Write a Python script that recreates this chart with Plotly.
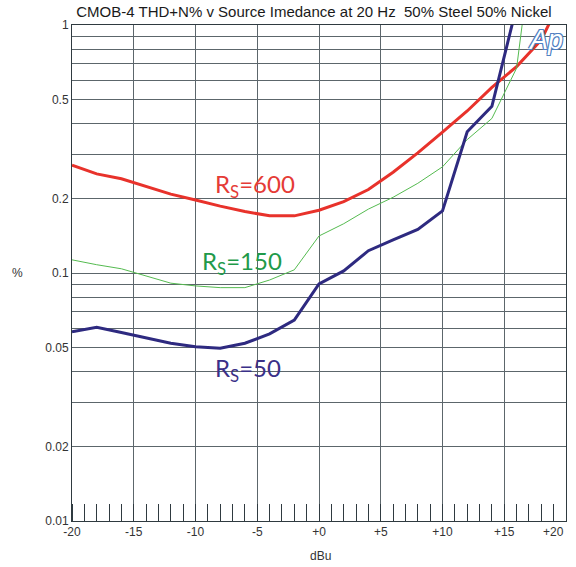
import plotly.graph_objects as go

# ---- data ----
dbu = [-20, -18, -16, -14, -12, -10, -8, -6, -4, -2, 0, 2, 4, 6, 8, 10, 12, 14, 16, 18, 20]
rs600 = [0.272, 0.251, 0.240, 0.223, 0.208, 0.197, 0.186, 0.177, 0.170, 0.170, 0.179,
         0.194, 0.217, 0.255, 0.305, 0.370, 0.450, 0.560, 0.680, 0.870, 1.40]
rs150 = [0.113, 0.108, 0.104, 0.097, 0.091, 0.0887, 0.0873, 0.0873, 0.0937, 0.103, 0.141,
         0.158, 0.181, 0.202, 0.230, 0.268, 0.345, 0.420, 0.670, 4.0]
rs50 = [0.058, 0.0604, 0.0576, 0.0548, 0.0521, 0.0504, 0.0497, 0.0521, 0.0568, 0.0646, 0.0903,
        0.102, 0.123, 0.136, 0.150, 0.178, 0.371, 0.470, 1.22, 3.0]

x_tickvals = [-20, -15, -10, -5, 0, 5, 10, 15]
x_ticktext = ["-20", "-15", "-10", "-5", "+0", "+5", "+10", "+15"]
y_gridvals = [0.01, 0.02, 0.03, 0.04, 0.05, 0.06, 0.07, 0.08, 0.09,
              0.1, 0.2, 0.3, 0.4, 0.5, 0.6, 0.7, 0.8, 0.9, 1]
y_labelled = {0.01: "0.01", 0.02: "0.02", 0.05: "0.05", 0.1: "0.1", 0.2: "0.2", 0.5: "0.5", 1: "1"}
y_ticktext = [y_labelled.get(v, "") for v in y_gridvals]

title_text = "CMOB-4 THD+N% v Source Imedance at 20 Hz\u00a0\u00a050% Steel 50% Nickel"

RED = "#e8322b"
NAVY = "#2e2a80"
GREEN = "#55bb50"
GRID = "#5c666b"
AXIS = "#2f3a40"

fig = go.Figure()
fig.add_trace(go.Scatter(x=dbu[:len(rs600)], y=rs600, mode="lines",
                         line=dict(color=RED, width=3), showlegend=False))
fig.add_trace(go.Scatter(x=dbu[:len(rs150)], y=rs150, mode="lines",
                         line=dict(color=GREEN, width=1), showlegend=False))
fig.add_trace(go.Scatter(x=dbu[:len(rs50)], y=rs50, mode="lines",
                         line=dict(color=NAVY, width=3), showlegend=False))

font_main = "Liberation Sans, Arial, sans-serif"
lab_font = "Lato, Open Sans, sans-serif"

fig.update_layout(
    width=576, height=567,
    margin=dict(l=72, r=10, t=25, b=46, autoexpand=False),
    paper_bgcolor="white", plot_bgcolor="white",
    font=dict(family=font_main, size=12, color="#333333"),
    title=dict(text=title_text, x=0.545, xanchor="center", y=0.979, yanchor="middle",
               font=dict(family=font_main, size=15, color="#1a1a1a")),
    xaxis=dict(range=[-20, 20], tickvals=x_tickvals, ticktext=x_ticktext,
               showgrid=True, gridcolor=GRID, gridwidth=1, automargin=False,
               showline=True, linecolor=AXIS, linewidth=1, mirror=True,
               ticks="", zeroline=False,
               tickfont=dict(family=font_main, size=12, color="#333333"),
               minor=dict(tick0=-20, dtick=1, ticks="inside", ticklen=17,
                          tickcolor=AXIS, tickwidth=1, showgrid=False)),
    yaxis=dict(type="log", range=[-2, 0], tickvals=y_gridvals, ticktext=y_ticktext,
               showgrid=True, gridcolor=GRID, gridwidth=1, automargin=False,
               showline=True, linecolor=AXIS, linewidth=1, mirror=True,
               ticks="", zeroline=False,
               tickfont=dict(family=font_main, size=12, color="#333333")),
)

# +20 tick label (kept inside the page as in the reference)
fig.add_annotation(x=20, y=0, xref="x", yref="paper", yanchor="top", xanchor="right",
                   yshift=-2, text="+20", showarrow=False,
                   font=dict(family=font_main, size=12, color="#333333"))
# axis titles
fig.add_annotation(x=0.503, y=-0.052, xref="paper", yref="paper", yanchor="top",
                   text="dBu", showarrow=False,
                   font=dict(family=font_main, size=12, color="#333333"))
fig.add_annotation(x=-0.11, y=-1, xref="paper", yref="y", xanchor="center",
                   text="%", showarrow=False,
                   font=dict(family=font_main, size=12, color="#333333"))

# curve labels
fig.add_annotation(x=-8.6, y=-0.649, xref="x", yref="y", xanchor="left", yanchor="middle",
                   text="R<sub>S</sub>=600", showarrow=False,
                   font=dict(family=lab_font, size=24, color="#e53b36"))
fig.add_annotation(x=-9.6, y=-0.956, xref="x", yref="y", xanchor="left", yanchor="middle",
                   text="R<sub>S</sub>=150", showarrow=False,
                   font=dict(family=lab_font, size=24, color="#1f9a4a"))
fig.add_annotation(x=-8.6, y=-1.391, xref="x", yref="y", xanchor="left", yanchor="middle",
                   text="R<sub>S</sub>=50", showarrow=False,
                   font=dict(family=lab_font, size=24, color="#3a3088"))

# Ap logo
oc = "#4f7fc2"
fig.add_annotation(x=0.958, y=0.97, xref="paper", yref="paper", xanchor="center", yanchor="middle",
                   text="Ap", showarrow=False,
                   font=dict(family=font_main, size=27, color="white", style="italic",
                             shadow=f"-1px -1px 0 {oc}, 1px -1px 0 {oc}, -1px 1px 0 {oc}, 1px 1px 0 {oc}"))

fig.write_html("out.html", config={"displayModeBar": False},
               post_script="document.body.style.margin='0';")
